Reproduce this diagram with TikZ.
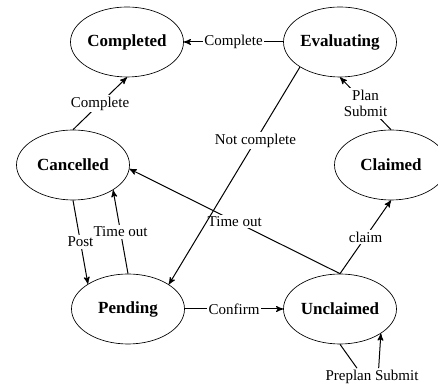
\documentclass[tikz,border=0pt]{standalone}
\usepackage{fontspec}
\setmainfont{Liberation Serif}
\usetikzlibrary{calc,arrows,shapes.geometric}

\tikzset{
	statebox/.style={draw,ellipse,minimum width=67.8pt,minimum height=42pt,inner sep=0pt,font=\fontsize{10.2}{12}\selectfont\bfseries},
	lbl/.style={fill=white,inner sep=1pt,font=\fontsize{9}{10}\selectfont},
	edge/.style={line width=0.6pt}
}

\begin{document}
\begin{tikzpicture}[x=0.6pt,y=0.6pt,>=stealth']
				\useasboundingbox (0,0) rectangle (438,384);
				%states
				\node[statebox] (completed) at (127,342) {Completed};
				\node[statebox] (evaluating) at (340,342) {Evaluating};
				\node[statebox] (cancelled) at (73,219) {Cancelled};
				\node[statebox] (claimed) at (391,219) {Claimed};
				\node[statebox] (pending) at (128,75) {Pending};
				\node[statebox] (unclaimed) at (340,75) {Unclaimed};
				
				%edges
				\draw[edge,->] (evaluating) -- (completed) node[lbl,pos=0.5] {Complete};
				\draw[edge,->] (cancelled.north) -- (completed.south) node[lbl,pos=0.5] {Complete};
				\draw[edge,->] (claimed.north) -- (evaluating.south) node[lbl,pos=0.5,align=center] {Plan\\Submit};
				\draw[edge,->] (unclaimed.north) -- (cancelled.-4) node[lbl,pos=0.5] {Time out};
				\draw[edge,->] (evaluating.212) -- (pending.31) node[lbl,pos=0.34] {Not complete};
				\draw[edge,->] (unclaimed.north) -- (claimed.south) node[lbl,pos=0.5] {claim};
				\draw[edge,->] (cancelled.south) -- (pending.148) node[lbl,pos=0.5] {Post};
				\draw[edge,->] (pending.north) -- (cancelled.-32) node[lbl,pos=0.5] {Time out};
				\draw[edge,->] (pending) -- (unclaimed) node[lbl,pos=0.5] {Confirm};
				
				%self loop
				\node[lbl] (preplan) at (372,7) {Preplan Submit};
				\draw[edge] (unclaimed.south) -- ([xshift=-9pt]preplan.north);
				\draw[edge,->] ([xshift=4pt]preplan.north) -- (unclaimed.-31);
			\end{tikzpicture}
\end{document}
